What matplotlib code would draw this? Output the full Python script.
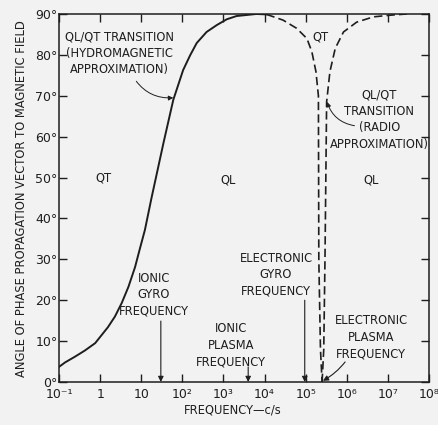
import matplotlib
matplotlib.use("Agg")
import matplotlib.pyplot as plt
import numpy as np

plt.rcParams['font.family'] = ['DejaVu Sans']

# solid curve: hydromagnetic approximation (log10 frequency, degrees)
hydro_logf = [-1.0, -0.85, -0.61, -0.37, -0.12, 0.19, 0.36, 0.525, 0.69, 0.85,
              0.97, 1.09, 1.25, 1.54, 1.78, 2.02, 2.19, 2.35, 2.59, 2.84,
              3.08, 3.32, 3.8, 4.05]
hydro_deg = [3.7, 4.8, 6.2, 7.7, 9.5, 13.4, 16.0, 19.3, 23.3, 28.1,
             32.7, 37.2, 45.0, 58.4, 69.0, 76.3, 79.9, 82.9, 85.6, 87.3,
             88.7, 89.5, 90.0, 89.9]

# dashed curves: radio approximation, both sides of the plasma frequency
radio_left_logf = [4.05, 4.45, 4.78, 5.03, 5.15, 5.25, 5.31, 5.32, 5.36, 5.40]
radio_left_deg = [89.9, 88.5, 86.5, 84.0, 80.8, 75.9, 70.0, 30.0, 8.0, 0.0]
radio_right_logf = [5.40, 5.44, 5.47, 5.51, 5.59, 5.72, 5.92, 6.24, 6.65, 7.05, 7.46]
radio_right_deg = [0.0, 8.0, 30.0, 68.5, 75.9, 81.6, 85.6, 88.0, 89.3, 89.7, 90.0]

# characteristic frequencies (c/s)
ionic_gyro = 30.0
ionic_plasma = 4.0e3
electronic_gyro = 9.5e4
electronic_plasma = 2.5e5

xtick_vals = [1e-1, 1, 10, 1e2, 1e3, 1e4, 1e5, 1e6, 1e7, 1e8]
xtick_labels = ['10⁻¹', '1', '10', '10²', '10³', '10⁴', '10⁵', '10⁶', '10⁷', '10⁸']
ytick_vals = [0, 10, 20, 30, 40, 50, 60, 70, 80, 90]
ytick_labels = [f'{v}°' for v in ytick_vals]

ink = '#1e1e1e'
bg = '#f2f2f2'
fs = 8.3

fig = plt.figure(figsize=(4.39, 4.25), dpi=100, facecolor=bg)
ax = fig.add_axes([0.1344, 0.1012, 0.8428, 0.8659], facecolor=bg)

ax.plot(10 ** np.array(hydro_logf), hydro_deg, color=ink, lw=1.4)
ax.plot(10 ** np.array(radio_left_logf), radio_left_deg, color=ink, lw=1.2,
        dashes=(5, 2.5))
ax.plot(10 ** np.array(radio_right_logf), radio_right_deg, color=ink, lw=1.2,
        dashes=(5, 2.5))

ax.set_xscale('log')
ax.set_xlim(1e-1, 1e8)
ax.set_ylim(0, 90)
ax.set_xticks(xtick_vals)
ax.set_xticklabels(xtick_labels)
ax.xaxis.set_minor_locator(matplotlib.ticker.NullLocator())
ax.set_yticks(ytick_vals)
ax.set_yticklabels(ytick_labels)
ax.tick_params(direction='in', length=6, width=1.0, color=ink,
               top=True, right=True, labelsize=9, labelcolor=ink)
ax.tick_params(axis='x', pad=4)
ax.tick_params(axis='y', pad=1)
for s in ax.spines.values():
    s.set_color(ink)
    s.set_linewidth(1.1)

fig.text(233 / 439, 1 - 410 / 425, 'FREQUENCY—c/s', fontsize=fs, color=ink,
         ha='center', va='center')
fig.text(22 / 439, 1 - 199 / 425,
         'ANGLE OF PHASE PROPAGATION VECTOR TO MAGNETIC FIELD',
         fontsize=fs, color=ink, ha='center', va='center', rotation=90)

txt = dict(fontsize=fs, color=ink, ha='center', va='center', linespacing=1.35)
ax.text(10 ** 0.07, 50, 'QT', **txt)
ax.text(10 ** 3.12, 49.5, 'QL', **txt)
ax.text(10 ** 5.37, 84.4, 'QT', **txt)
ax.text(10 ** 6.59, 49.4, 'QL', **txt)

ax.annotate('QL/QT TRANSITION\n(HYDROMAGNETIC\nAPPROXIMATION)',
            xy=(10 ** 1.78, 69.5), xytext=(10 ** 0.48, 80.4),
            arrowprops=dict(arrowstyle='-|>', color=ink, lw=0.7,
                            mutation_scale=7,
                            connectionstyle='arc3,rad=0.3',
                            relpos=(0.62, 0.0), shrinkA=2, shrinkB=0),
            **txt)
ax.annotate('QL/QT\nTRANSITION\n(RADIO\nAPPROXIMATION)',
            xy=(10 ** 5.52, 68.5), xytext=(10 ** 6.79, 64.2),
            arrowprops=dict(arrowstyle='-|>', color=ink, lw=0.7,
                            mutation_scale=7,
                            connectionstyle='arc3,rad=-0.3',
                            relpos=(0.25, 0.4), shrinkA=0, shrinkB=0),
            **txt)

arrow_kw = dict(arrowstyle='-|>', color=ink, lw=0.8, mutation_scale=8,
                shrinkA=0, shrinkB=0)
ax.annotate('', xy=(ionic_gyro, 0), xytext=(ionic_gyro, 14.9),
            arrowprops=arrow_kw)
ax.text(10 ** 1.31, 21.3, 'IONIC\nGYRO\nFREQUENCY', **txt)
ax.annotate('', xy=(ionic_plasma, 0), xytext=(ionic_plasma, 3.7),
            arrowprops=arrow_kw)
ax.text(10 ** 3.18, 9.0, 'IONIC\nPLASMA\nFREQUENCY', **txt)
ax.annotate('', xy=(electronic_gyro, 0), xytext=(electronic_gyro, 20),
            arrowprops=arrow_kw)
ax.text(10 ** 4.28, 26.2, 'ELECTRONIC\nGYRO\nFREQUENCY', **txt)
ax.annotate('', xy=(electronic_plasma * 1.05, 0.3),
            xytext=(10 ** 5.96, 4.9),
            arrowprops=dict(arrow_kw, connectionstyle='arc3,rad=-0.1'))
ax.text(10 ** 6.59, 11.0, 'ELECTRONIC\nPLASMA\nFREQUENCY', **txt)

fig.savefig('out.png', dpi=100, facecolor=bg)
